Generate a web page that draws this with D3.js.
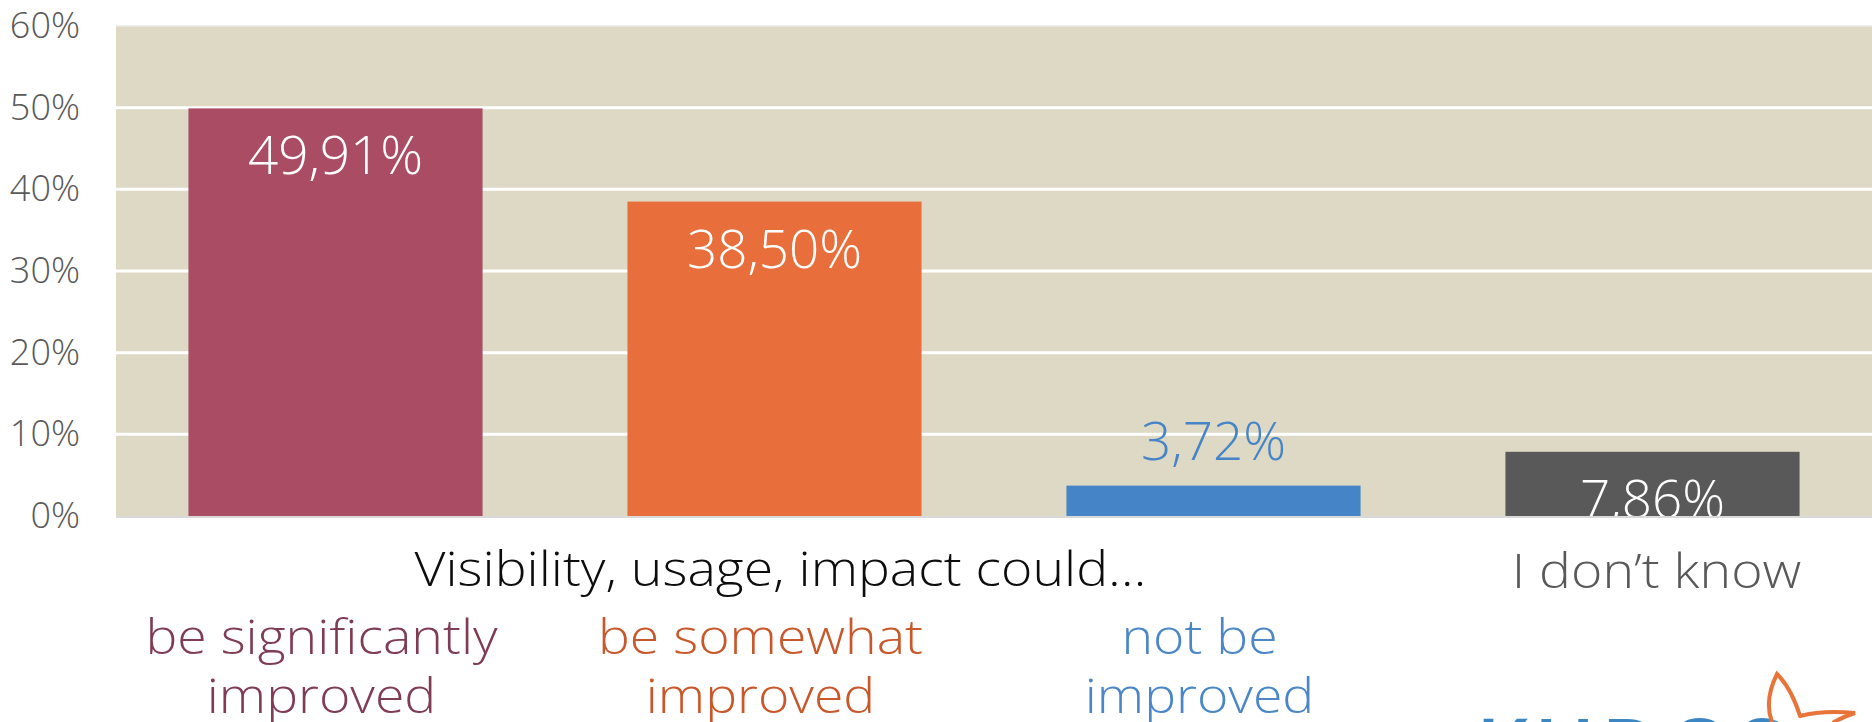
<!DOCTYPE html>
<html>
<head>
<meta charset="utf-8">
<script src="https://cdn.jsdelivr.net/npm/d3@7"></script>
<style>
  body { margin: 0; background: #ffffff; }
  svg { display: block; }
  text { font-family: "Open Sans", "DejaVu Sans", sans-serif; }
</style>
</head>
<body>
<svg id="chart" width="1872" height="722"></svg>
<script>
// data
const categories = ["be significantly improved", "be somewhat improved", "not be improved", "I don't know"];
const values = [0.4991, 0.3850, 0.0372, 0.0786];
const valueLabels = ["49,91%", "38,50%", "3,72%", "7,86%"];
const yTicks = [0, 0.1, 0.2, 0.3, 0.4, 0.5, 0.6];
const barColors = ["#aa4d64", "#e86f3b", "#4584c6", "#595959"];
const nameColors = ["#803d52", "#c9572a", "#4a86c8"];
const nameLines = [["be significantly", "improved"], ["be somewhat", "improved"], ["not be", "improved"]];

const svg = d3.select("#chart");

// plot area (top/bottom clash with window globals, so prefix them)
const plotLeft = 116, plotRight = 1872, plotTop = 26, plotBottom = 516;

// the original labels use a wide geometric face, so stretch a bit
const labelStretch = 1.14;

const x = d3.scaleBand()
    .domain(categories)
    .range([plotLeft, plotRight])
    .paddingInner(0.33)
    .paddingOuter(0.165);

const y = d3.scaleLinear()
    .domain([0, 0.6])
    .range([plotBottom, plotTop]);

// clip so the labels don't spill under the axis
svg.append("clipPath").attr("id", "plotclip")
    .append("rect")
    .attr("x", plotLeft).attr("y", 0)
    .attr("width", plotRight - plotLeft).attr("height", plotBottom);

// background
svg.append("rect")
    .attr("x", plotLeft).attr("y", plotTop)
    .attr("width", plotRight - plotLeft).attr("height", plotBottom - plotTop)
    .attr("fill", "#ded9c4");

// gridlines
svg.append("g").selectAll("line")
    .data(yTicks.filter(d => d > 0 && d < 0.6))
    .join("line")
    .attr("x1", plotLeft).attr("x2", plotRight)
    .attr("y1", d => y(d)).attr("y2", d => y(d))
    .attr("stroke", "#ffffff")
    .attr("stroke-width", 3);

// top edge
svg.append("line")
    .attr("x1", plotLeft).attr("x2", plotRight)
    .attr("y1", y(0.6)).attr("y2", y(0.6))
    .attr("stroke", "#e8e8e8").attr("stroke-width", 1.5);

// y axis labels
const yAxis = d3.axisLeft(y)
    .tickValues(yTicks)
    .tickFormat(d3.format(".0%"))
    .tickSize(0)
    .tickPadding(0);

const yg = svg.append("g")
    .attr("transform", `translate(80,0)`)
    .call(yAxis);
yg.select(".domain").remove();
yg.selectAll("text")
    .attr("font-size", "36px")
    .attr("font-weight", 300)
    .attr("fill", "#595959")
    .attr("font-family", "'Open Sans', sans-serif");

// bars
svg.append("g").selectAll("rect")
    .data(categories)
    .join("rect")
    .attr("x", d => x(d))
    .attr("width", x.bandwidth())
    .attr("y", (d, i) => y(values[i]))
    .attr("height", (d, i) => y(0) - y(values[i]))
    .attr("fill", (d, i) => barColors[i]);

// axis baseline
svg.append("line")
    .attr("x1", plotLeft).attr("x2", plotRight)
    .attr("y1", plotBottom + 1).attr("y2", plotBottom + 1)
    .attr("stroke", "#d9d9d9").attr("stroke-width", 2);

// value labels - inside the bar end if there's room, otherwise above
svg.append("g").attr("clip-path", "url(#plotclip)")
    .selectAll("text")
    .data(categories)
    .join("text")
    .attr("x", d => x(d) + x.bandwidth() / 2)
    .attr("y", (d, i) => values[i] > 0.05 ? y(values[i]) + 66 : y(values[i]) - 26)
    .attr("text-anchor", "middle")
    .attr("font-size", "53px")
    .attr("font-weight", 300)
    .attr("fill", (d, i) => values[i] > 0.05 ? "#ffffff" : barColors[i])
    .text((d, i) => valueLabels[i]);

// stretch a text horizontally around its anchor
function widen(sel) {
    sel.each(function () {
        const w = this.getComputedTextLength();
        d3.select(this)
            .attr("textLength", w * labelStretch)
            .attr("lengthAdjust", "spacingAndGlyphs");
    });
}

// category group label
const c0 = x(categories[0]) + x.bandwidth() / 2;
const c2 = x(categories[2]) + x.bandwidth() / 2;
svg.append("text")
    .attr("x", (c0 + c2) / 2 + 6)
    .attr("y", 586)
    .attr("text-anchor", "middle")
    .attr("font-size", "47px")
    .attr("font-weight", 300)
    .attr("fill", "#0d0d0d")
    .text("Visibility, usage, impact could\u2026")
    .call(widen);

svg.append("text")
    .attr("x", x(categories[3]) + x.bandwidth() / 2 + 4)
    .attr("y", 588)
    .attr("text-anchor", "middle")
    .attr("font-size", "47px")
    .attr("font-weight", 300)
    .attr("fill", "#595959")
    .text("I don\u2019t know")
    .call(widen);

// sub labels, two lines each
svg.append("g").selectAll("text")
    .data(nameLines)
    .join("text")
    .attr("x", (d, i) => x(categories[i]) + x.bandwidth() / 2 - 14)
    .attr("y", 654)
    .attr("font-size", "47px")
    .attr("font-weight", 300)
    .attr("fill", (d, i) => nameColors[i])
    .each(function (lines) {
        const t = d3.select(this);
        lines.forEach((line, j) => {
            t.append("tspan")
                .attr("x", t.attr("x"))
                .attr("y", 654 + j * 59)
                .attr("text-anchor", "middle")
                .text(line);
        });
    })
    .selectAll("tspan")
    .call(widen);

// logo peeking in at the bottom right
const logo = svg.append("g");
logo.append("text")
    .attr("x", 1476).attr("y", 777)
    .attr("font-size", "82px")
    .attr("font-weight", 600)
    .attr("letter-spacing", "6px")
    .attr("fill", "#3d86c4")
    .text("KUDOS");
logo.append("path")
    .attr("d", "M1772,722 C1766,706 1770,688 1777,674 C1787,684 1795,700 1800,716 M1800,716 C1815,712 1835,711 1855,713 C1845,716 1838,720 1834,722")
    .attr("fill", "none")
    .attr("stroke", "#e8743a")
    .attr("stroke-width", 4)
    .attr("stroke-linecap", "round");
</script>
</body>
</html>
